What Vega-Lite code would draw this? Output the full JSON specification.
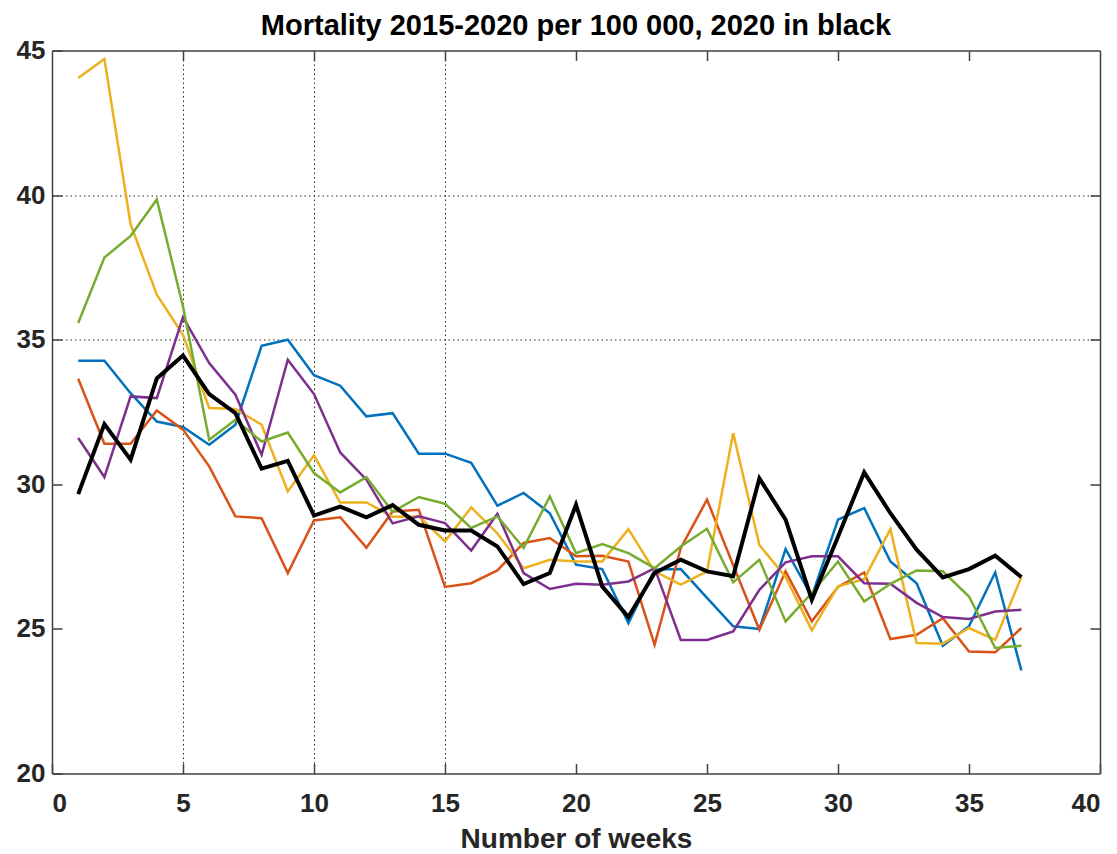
{
  "$schema": "https://vega.github.io/schema/vega-lite/v6.json",
  "width": 1048,
  "height": 723,
  "autosize": "none",
  "padding": {"left": 52, "top": 50.5, "right": 17, "bottom": 80.5},
  "background": "white",
  "title": {"text": "Mortality 2015-2020 per 100 000, 2020 in black", "font": "Liberation Sans", "fontSize": 29, "fontWeight": "bold", "color": "#000000", "anchor": "middle", "offset": -3},
  "data": {"values": [
    {"week": 1, "2015": 34.27, "2016": 33.65, "2017": 44.05, "2018": 31.60, "2019": 35.58, "2020": 29.66},
    {"week": 2, "2015": 34.27, "2016": 31.40, "2017": 44.71, "2018": 30.25, "2019": 37.84, "2020": 32.08},
    {"week": 3, "2015": 33.15, "2016": 31.40, "2017": 38.99, "2018": 33.04, "2019": 38.59, "2020": 30.85},
    {"week": 4, "2015": 32.17, "2016": 32.55, "2017": 36.56, "2018": 32.98, "2019": 39.85, "2020": 33.66},
    {"week": 5, "2015": 31.98, "2016": 31.89, "2017": 35.17, "2018": 35.78, "2019": 36.15, "2020": 34.45},
    {"week": 6, "2015": 31.37, "2016": 30.62, "2017": 32.64, "2018": 34.19, "2019": 31.54, "2020": 33.12},
    {"week": 7, "2015": 32.06, "2016": 28.89, "2017": 32.60, "2018": 33.10, "2019": 32.23, "2020": 32.46},
    {"week": 8, "2015": 34.79, "2016": 28.83, "2017": 32.06, "2018": 31.02, "2019": 31.48, "2020": 30.54},
    {"week": 9, "2015": 35.00, "2016": 26.93, "2017": 29.75, "2018": 34.31, "2019": 31.79, "2020": 30.81},
    {"week": 10, "2015": 33.77, "2016": 28.75, "2017": 31.00, "2018": 33.12, "2019": 30.39, "2020": 28.92},
    {"week": 11, "2015": 33.41, "2016": 28.86, "2017": 29.37, "2018": 31.10, "2019": 29.72, "2020": 29.23},
    {"week": 12, "2015": 32.35, "2016": 27.81, "2017": 29.37, "2018": 30.16, "2019": 30.25, "2020": 28.86},
    {"week": 13, "2015": 32.46, "2016": 29.06, "2017": 28.88, "2018": 28.65, "2019": 29.05, "2020": 29.28},
    {"week": 14, "2015": 31.06, "2016": 29.12, "2017": 28.89, "2018": 28.89, "2019": 29.56, "2020": 28.60},
    {"week": 15, "2015": 31.06, "2016": 26.45, "2017": 28.03, "2018": 28.66, "2019": 29.33, "2020": 28.40},
    {"week": 16, "2015": 30.74, "2016": 26.58, "2017": 29.20, "2018": 27.71, "2019": 28.49, "2020": 28.40},
    {"week": 17, "2015": 29.26, "2016": 27.02, "2017": 28.30, "2018": 28.98, "2019": 28.89, "2020": 27.85},
    {"week": 18, "2015": 29.70, "2016": 27.97, "2017": 27.10, "2018": 26.93, "2019": 27.80, "2020": 26.55},
    {"week": 19, "2015": 29.00, "2016": 28.14, "2017": 27.39, "2018": 26.38, "2019": 29.58, "2020": 26.93},
    {"week": 20, "2015": 27.22, "2016": 27.51, "2017": 27.33, "2018": 26.56, "2019": 27.62, "2020": 29.29},
    {"week": 21, "2015": 27.07, "2016": 27.53, "2017": 27.33, "2018": 26.53, "2019": 27.93, "2020": 26.47},
    {"week": 22, "2015": 25.20, "2016": 27.33, "2017": 28.45, "2018": 26.64, "2019": 27.62, "2020": 25.41},
    {"week": 23, "2015": 27.05, "2016": 24.45, "2017": 26.99, "2018": 27.10, "2019": 27.10, "2020": 26.93},
    {"week": 24, "2015": 27.07, "2016": 27.80, "2017": 26.53, "2018": 24.62, "2019": 27.85, "2020": 27.39},
    {"week": 25, "2015": 26.07, "2016": 29.47, "2017": 26.99, "2018": 24.62, "2019": 28.46, "2020": 26.99},
    {"week": 26, "2015": 25.09, "2016": 27.20, "2017": 31.77, "2018": 24.91, "2019": 26.61, "2020": 26.82},
    {"week": 27, "2015": 25.00, "2016": 24.97, "2017": 27.90, "2018": 26.35, "2019": 27.39, "2020": 30.20},
    {"week": 28, "2015": 27.76, "2016": 26.99, "2017": 26.80, "2018": 27.30, "2019": 25.26, "2020": 28.78},
    {"week": 29, "2015": 26.12, "2016": 25.26, "2017": 24.95, "2018": 27.51, "2019": 26.24, "2020": 26.01},
    {"week": 30, "2015": 28.78, "2016": 26.45, "2017": 26.47, "2018": 27.51, "2019": 27.33, "2020": 28.19},
    {"week": 31, "2015": 29.18, "2016": 26.95, "2017": 26.72, "2018": 26.58, "2019": 25.95, "2020": 30.41},
    {"week": 32, "2015": 27.33, "2016": 24.65, "2017": 28.45, "2018": 26.56, "2019": 26.56, "2020": 29.00},
    {"week": 33, "2015": 26.58, "2016": 24.80, "2017": 24.51, "2018": 25.90, "2019": 27.02, "2020": 27.74},
    {"week": 34, "2015": 24.42, "2016": 25.37, "2017": 24.49, "2018": 25.41, "2019": 26.99, "2020": 26.78},
    {"week": 35, "2015": 25.09, "2016": 24.22, "2017": 25.03, "2018": 25.34, "2019": 26.12, "2020": 27.07},
    {"week": 36, "2015": 26.95, "2016": 24.19, "2017": 24.62, "2018": 25.60, "2019": 24.34, "2020": 27.53},
    {"week": 37, "2015": 23.56, "2016": 25.03, "2017": 26.79, "2018": 25.66, "2019": 24.42, "2020": 26.79}
  ]},
  "transform": [{"fold": ["2015", "2016", "2017", "2018", "2019", "2020"], "as": ["year", "value"]}],
  "layer": [
    {
      "transform": [{"filter": "datum.year != '2020'"}],
      "mark": {"type": "line", "strokeWidth": 2.5, "clip": true},
      "encoding": {
        "x": {"field": "week", "type": "quantitative", "scale": {"domain": [0, 40], "nice": false, "zero": false},
          "axis": {"orient": "bottom", "values": [0, 5, 10, 15, 20, 25, 30, 35, 40], "format": "d",
            "labelFont": "Liberation Sans", "labelFontSize": 26, "labelFontWeight": "bold", "labelColor": "#262626", "labelPadding": 27,
            "tickSize": -10, "tickColor": "#404040", "tickWidth": 1.5, "domainColor": "#404040", "domainWidth": 1.5,
            "title": "Number of weeks", "titleFont": "Liberation Sans", "titleFontSize": 28, "titleFontWeight": "bold", "titleColor": "#262626", "titlePadding": 9,
            "grid": true, "gridColor": "#262626", "gridDash": [1.5, 3], "gridWidth": 1,
            "gridOpacity": {"condition": {"test": "datum.value > 0 && datum.value < 20", "value": 1}, "value": 0}}},
        "y": {"field": "value", "type": "quantitative", "scale": {"domain": [20, 45], "nice": false, "zero": false},
          "axis": {"orient": "left", "values": [20, 25, 30, 35, 40, 45], "format": "d",
            "labelFont": "Liberation Sans", "labelFontSize": 26, "labelFontWeight": "bold", "labelColor": "#262626", "labelPadding": 17,
            "tickSize": -10, "tickColor": "#404040", "tickWidth": 1.5, "domainColor": "#404040", "domainWidth": 1.5,
            "title": null,
            "grid": true, "gridColor": "#262626", "gridDash": [1.5, 3], "gridWidth": 1,
            "gridOpacity": {"condition": {"test": "datum.value > 32 && datum.value < 44", "value": 1}, "value": 0}}},
        "color": {"field": "year", "type": "nominal",
          "scale": {"domain": ["2015", "2016", "2017", "2018", "2019"], "range": ["#0072BD", "#D95319", "#EDB120", "#7E2F8E", "#77AC30"]},
          "legend": null}
      }
    },
    {
      "transform": [{"filter": "datum.year == '2020'"}],
      "mark": {"type": "line", "strokeWidth": 4, "color": "#000000", "clip": true},
      "encoding": {
        "x": {"field": "week", "type": "quantitative",
          "axis": {"orient": "top", "values": [5, 10, 15, 20, 25, 30, 35], "labels": false, "title": null, "grid": false,
            "tickSize": -10, "tickColor": "#404040", "tickWidth": 1.5, "domainColor": "#404040", "domainWidth": 1.5}},
        "y": {"field": "value", "type": "quantitative",
          "axis": {"orient": "right", "values": [25, 30, 35, 40], "labels": false, "title": null, "grid": false,
            "tickSize": -10, "tickColor": "#404040", "tickWidth": 1.5, "domainColor": "#404040", "domainWidth": 1.5}}
      }
    }
  ],
  "resolve": {"axis": {"x": "independent", "y": "independent"}},
  "config": {"view": {"stroke": null}}
}
